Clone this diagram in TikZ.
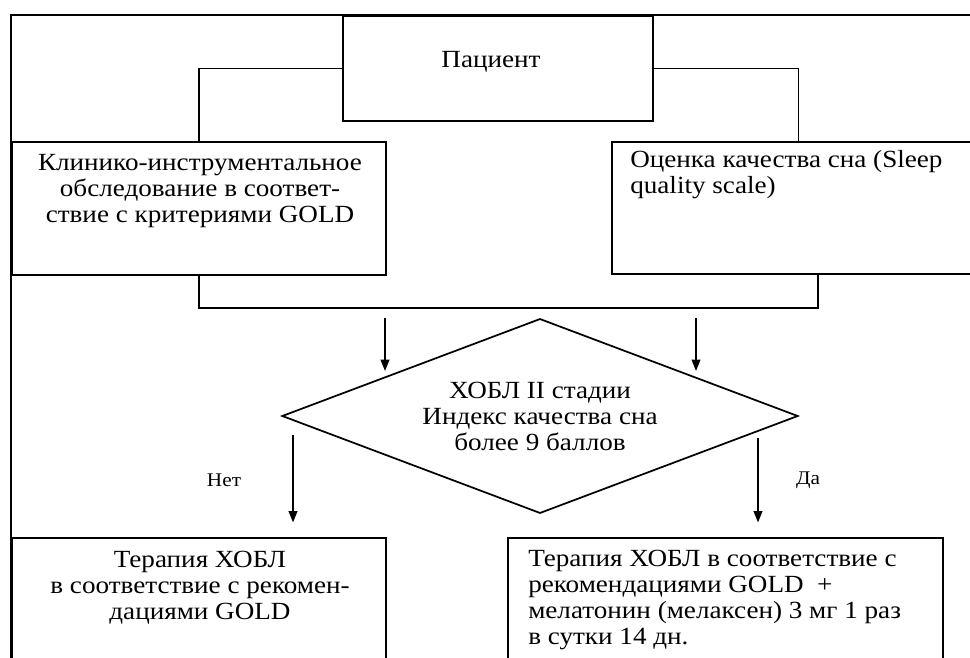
\documentclass[tikz,border=0pt]{standalone}
\usepackage{fontspec}
\setmainfont{Liberation Serif}[FakeStretch=1.1]
\usetikzlibrary{arrows.meta,shapes.geometric,positioning}

\begin{document}
\begin{tikzpicture}[x=0.75pt,y=-0.75pt,
  box/.style={draw, line width=1.3pt, rectangle, inner sep=0pt},
  txt/.style={font=\fontsize{18.5}{19.5}\selectfont, inner sep=0pt},
  lbl/.style={font=\fontsize{14.5}{16}\selectfont, inner sep=0pt},
  lnk/.style={line width=1.3pt},
  arr/.style={line width=1.3pt, -{Triangle[width=6.5pt,length=8.5pt]}}]
  %%%%% START %%%%%
  \useasboundingbox (0,0) rectangle (970,657);

  % frame
  \draw[lnk] (11,700) -- (11,15) -- (990,15);

  \node[box, minimum width=232.5pt, minimum height=78.75pt] (patient) at (498,68.5) {};
  \node[txt] (patienttxt) at (491,62) {Пациент};

  \node[box, minimum width=280.5pt, minimum height=99.75pt] (exam) at (199,208.5) {};
  \node[txt, align=center] (examtxt) at (200,191) {Клинико-инструментальное\\обследование в соответ-\\ствие с критериями GOLD};

  \node[box, minimum width=279.75pt, minimum height=99pt] (sleep) at (798.5,208) {};
  \node[txt, align=left, anchor=north west] (sleeptxt) at (630,150) {Оценка качества сна (Sleep\\quality scale)};

  \draw[lnk] (patient.west) -| (exam.north);
  \draw[lnk] (patient.east) -| (sleep.north);

  \coordinate (jr) at (818,308);
  \draw[lnk] (exam.south) |- (jr) -- (jr |- sleep.south);

  \node[diamond, draw, line width=1.3pt, aspect=2.65, minimum width=387pt, minimum height=146pt,
        txt, align=center] (dec) at (540,416) {ХОБЛ II стадии\\Индекс качества сна\\более 9 баллов};

  \coordinate (al) at (385,318);
  \coordinate (ar) at (696,318);
  \draw[arr] (al) -- ++(0,53);
  \draw[arr] (ar) -- ++(0,53);

  \node[box, minimum width=280.5pt, minimum height=121.5pt] (therno) at (199,619) {};
  \node[txt, align=center] (thernotxt) at (200,588) {Терапия ХОБЛ\\в соответствие с рекомен-\\дациями GOLD};

  \node[box, minimum width=326.25pt, minimum height=121.5pt] (theryes) at (725.5,619) {};
  \node[txt, align=left, anchor=north west] (theryestxt) at (528,550) {Терапия ХОБЛ в соответствие с\\рекомендациями GOLD \ +\\мелатонин (мелаксен) 3 мг 1 раз\\в сутки 14 дн.};

  \coordinate (no) at (293,435);
  \coordinate (yes) at (758,438);
  \draw[arr, shorten >=11pt] (no) -- (no |- therno.north);
  \draw[arr, shorten >=11pt] (yes) -- (yes |- theryes.north);

  \node[lbl] (notxt) at (224,480) {Нет};
  \node[lbl] (yestxt) at (808,480) {Да};
  %%%%% END %%%%%
\end{tikzpicture}
\end{document}
